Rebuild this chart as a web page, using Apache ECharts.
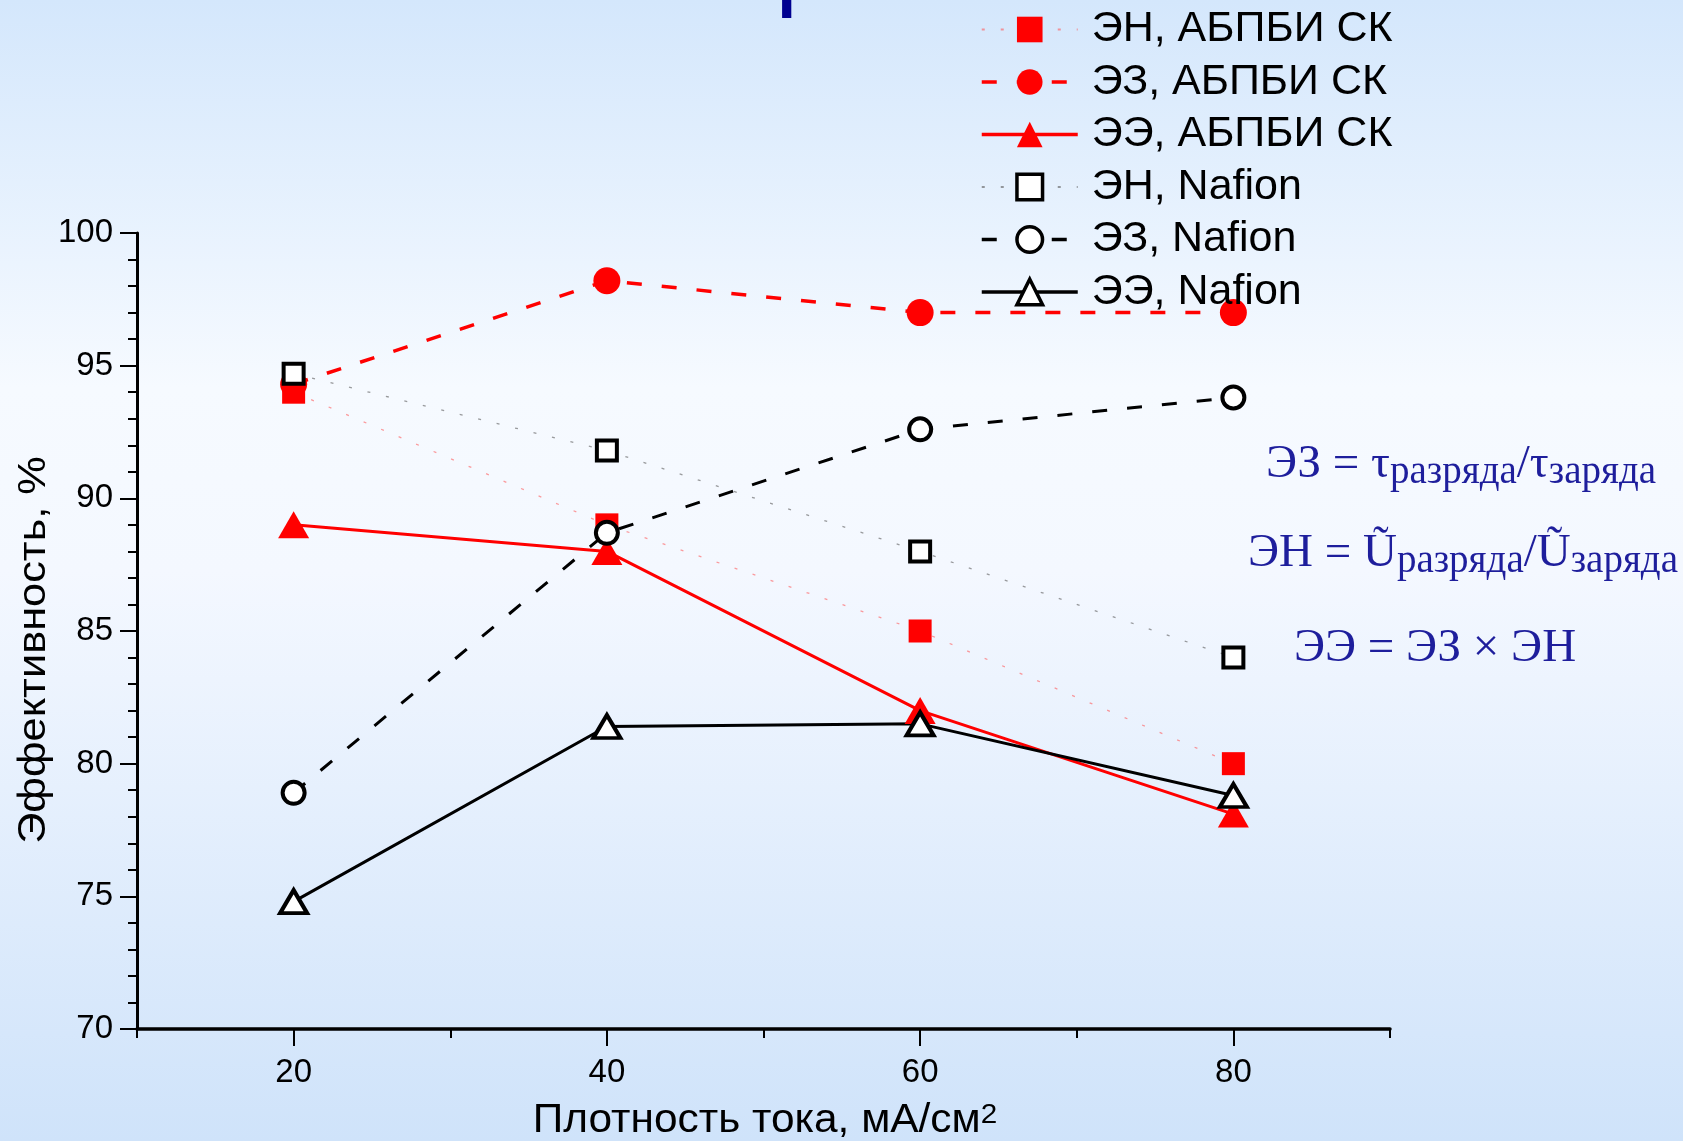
<!DOCTYPE html>
<html>
<head>
<meta charset="utf-8">
<title>Эффективность</title>
<script src="https://cdn.jsdelivr.net/npm/echarts@6/dist/echarts.min.js"></script>
<style>
html, body { margin: 0; padding: 0; }
#chart { width: 1683px; height: 1141px; }
</style>
</head>
<body>
<div id="chart"></div>
<script>
// плотность тока, мА/см2
var currentDensity = [20, 40, 60, 80];
// АБПБИ СК
var enAbpbi = [94.0, 89.0, 85.0, 80.0];
var ezAbpbi = [94.3, 98.2, 97.0, 97.0];
var eeAbpbi = [89.0, 88.0, 82.0, 78.1];
// Nafion
var enNafion = [94.7, 91.8, 88.0, 84.0];
var ezNafion = [78.9, 88.7, 92.6, 93.8];
var eeNafion = [74.8, 81.4, 81.5, 78.8];

var xMajorTicks = [20, 40, 60, 80];
var seriesNames = ['ЭН, АБПБИ СК', 'ЭЗ, АБПБИ СК', 'ЭЭ, АБПБИ СК', 'ЭН, Nafion', 'ЭЗ, Nafion', 'ЭЭ, Nafion'];

var sans = "'Liberation Sans', Arial, sans-serif";
var serif = "'Liberation Serif', 'DejaVu Serif', serif";
var formulaColor = '#1e1e9c';

function pairs(vals) {
	return currentDensity.map(function(x, i) { return [x, vals[i]]; });
}

//common part of every series
function makeSeries(name, vals, symbol, size, itemStyle, lineStyle) {
	return {
		name: name,
		type: 'line',
		data: pairs(vals),
		symbol: symbol,
		symbolSize: size,
		showAllSymbol: true,
		itemStyle: itemStyle,
		lineStyle: lineStyle,
		emphasis: { disabled: true },
		xAxisIndex: 0
	};
}

var red = '#ff0000';
var hollow = { color: '#ffffff', borderColor: '#000000', borderWidth: 4, opacity: 1 };

var seriesData = [
	makeSeries(seriesNames[0], enAbpbi, 'rect', 23, { color: red },
		{ color: 'rgba(255,90,90,0.6)', width: 1.3, type: [3, 16] }),
	makeSeries(seriesNames[1], ezAbpbi, 'circle', 27, { color: red },
		{ color: red, width: 3.5, type: [15, 20] }),
	makeSeries(seriesNames[2], eeAbpbi, 'triangle', [31, 27], { color: red },
		{ color: red, width: 3, type: 'solid' }),
	makeSeries(seriesNames[3], enNafion, 'rect', 20, hollow,
		{ color: 'rgba(90,90,90,0.6)', width: 1.3, type: [3, 16] }),
	makeSeries(seriesNames[4], ezNafion, 'circle', 22, hollow,
		{ color: '#000000', width: 3, type: [15, 20] }),
	makeSeries(seriesNames[5], eeNafion, 'triangle', [27, 23], hollow,
		{ color: '#000000', width: 3, type: 'solid' })
];

//legend entries: thicker lines / borders than the defaults
var legendData = [
	{ name: seriesNames[0] },
	{ name: seriesNames[1], lineStyle: { width: 3.5 } },
	{ name: seriesNames[2], lineStyle: { width: 3.5 } },
	{ name: seriesNames[3], itemStyle: { borderWidth: 3.5 } },
	{ name: seriesNames[4], itemStyle: { borderWidth: 3.5 }, lineStyle: { width: 3.5 } },
	{ name: seriesNames[5], itemStyle: { borderWidth: 3.5 }, lineStyle: { width: 3.5 } }
];

var formulaRich = {
	m: { fontFamily: serif, fontSize: 47, lineHeight: 47, fill: formulaColor, padding: [0, 0, 8, 0] },
	s: { fontFamily: serif, fontSize: 39, lineHeight: 39, fill: formulaColor, verticalAlign: 'bottom' }
};

var myChart = echarts.init(document.getElementById('chart'), null, { renderer: 'canvas' });
var option = {
	animation: false,
	backgroundColor: {
		type: 'linear', x: 0, y: 0, x2: 0, y2: 1,
		colorStops: [
			{ offset: 0, color: '#d4e7fc' },
			{ offset: 0.34, color: '#f6faff' },
			{ offset: 0.5, color: '#f4f8ff' },
			{ offset: 1, color: '#cfe3fa' }
		]
	},
	grid: { left: 137, top: 233, right: 293, bottom: 112, containLabel: false },
	legend: {
		orient: 'vertical',
		left: 980,
		top: 8,
		padding: 0,
		itemWidth: 96,
		itemHeight: 32,
		itemGap: 9.5,
		selectedMode: false,
		textStyle: { fontFamily: sans, fontSize: 43, color: '#000', lineHeight: 43, padding: [0, 0, 0, 9] },
		data: legendData
	},
	xAxis: [
		{
			type: 'value',
			min: 10,
			max: 90,
			interval: 10,
			axisLine: { show: true, lineStyle: { color: '#000', width: 3.5 } },
			axisTick: { show: true, length: 9, lineStyle: { color: '#000', width: 2 } },
			axisLabel: {
				margin: 27,
				fontFamily: sans,
				fontSize: 33,
				color: '#000',
				formatter: function(v) { return v % 20 === 0 ? String(v) : ''; }
			},
			splitLine: { show: false }
		},
		{
			//long ticks under the labelled values
			type: 'value',
			min: 10,
			max: 90,
			position: 'bottom',
			axisLine: { show: false },
			axisTick: { show: true, length: 17, customValues: xMajorTicks, lineStyle: { color: '#000', width: 2 } },
			axisLabel: { show: false },
			splitLine: { show: false }
		}
	],
	yAxis: {
		type: 'value',
		min: 70,
		max: 100,
		interval: 5,
		axisLine: { show: true, lineStyle: { color: '#000', width: 3 } },
		axisTick: { show: true, length: 17, lineStyle: { color: '#000', width: 2 } },
		minorTick: { show: true, splitNumber: 5, length: 9, lineStyle: { color: '#000', width: 2 } },
		axisLabel: { margin: 24, fontFamily: sans, fontSize: 33, color: '#000' },
		splitLine: { show: false }
	},
	graphic: [
		{
			//only the descender of the cut-off title letter is visible
			type: 'text', x: 775, y: -33, silent: true,
			style: { text: 'р', fontFamily: sans, fontSize: 105, fill: '#000090', verticalAlign: 'middle' }
		},
		{
			type: 'text', x: 35, y: 650, rotation: Math.PI / 2, scaleX: 1.14, silent: true,
			style: { text: 'Эффективность, %', fontFamily: sans, fontSize: 38, fill: '#000', align: 'center', verticalAlign: 'middle' }
		},
		{
			type: 'text', x: 765, y: 1121, scaleX: 1.06, silent: true,
			style: {
				text: '{a|Плотность тока, мА/см}{b|2}',
				align: 'center', verticalAlign: 'middle',
				rich: {
					a: { fontFamily: sans, fontSize: 40, lineHeight: 40, fill: '#000' },
					b: { fontFamily: sans, fontSize: 28, lineHeight: 20, fill: '#000', verticalAlign: 'top' }
				}
			}
		},
		{
			type: 'text', x: 1461, y: 469, silent: true,
			style: {
				text: '{m|ЭЗ = τ}{s|разряда}{m|/τ}{s|заряда}',
				align: 'center', verticalAlign: 'middle',
				rich: formulaRich
			}
		},
		{
			type: 'text', x: 1463, y: 558, silent: true,
			style: {
				text: '{m|ЭН = Ũ}{s|разряда}{m|/Ũ}{s|заряда}',
				align: 'center', verticalAlign: 'middle',
				rich: formulaRich
			}
		},
		{
			type: 'text', x: 1435, y: 649, silent: true,
			style: {
				text: 'ЭЭ = ЭЗ × ЭН',
				fontFamily: serif, fontSize: 47, fill: formulaColor,
				align: 'center', verticalAlign: 'middle'
			}
		}
	],
	series: seriesData
};
myChart.setOption(option);
window.addEventListener('resize', function() {
	myChart.resize();
});
</script>
</body>
</html>
